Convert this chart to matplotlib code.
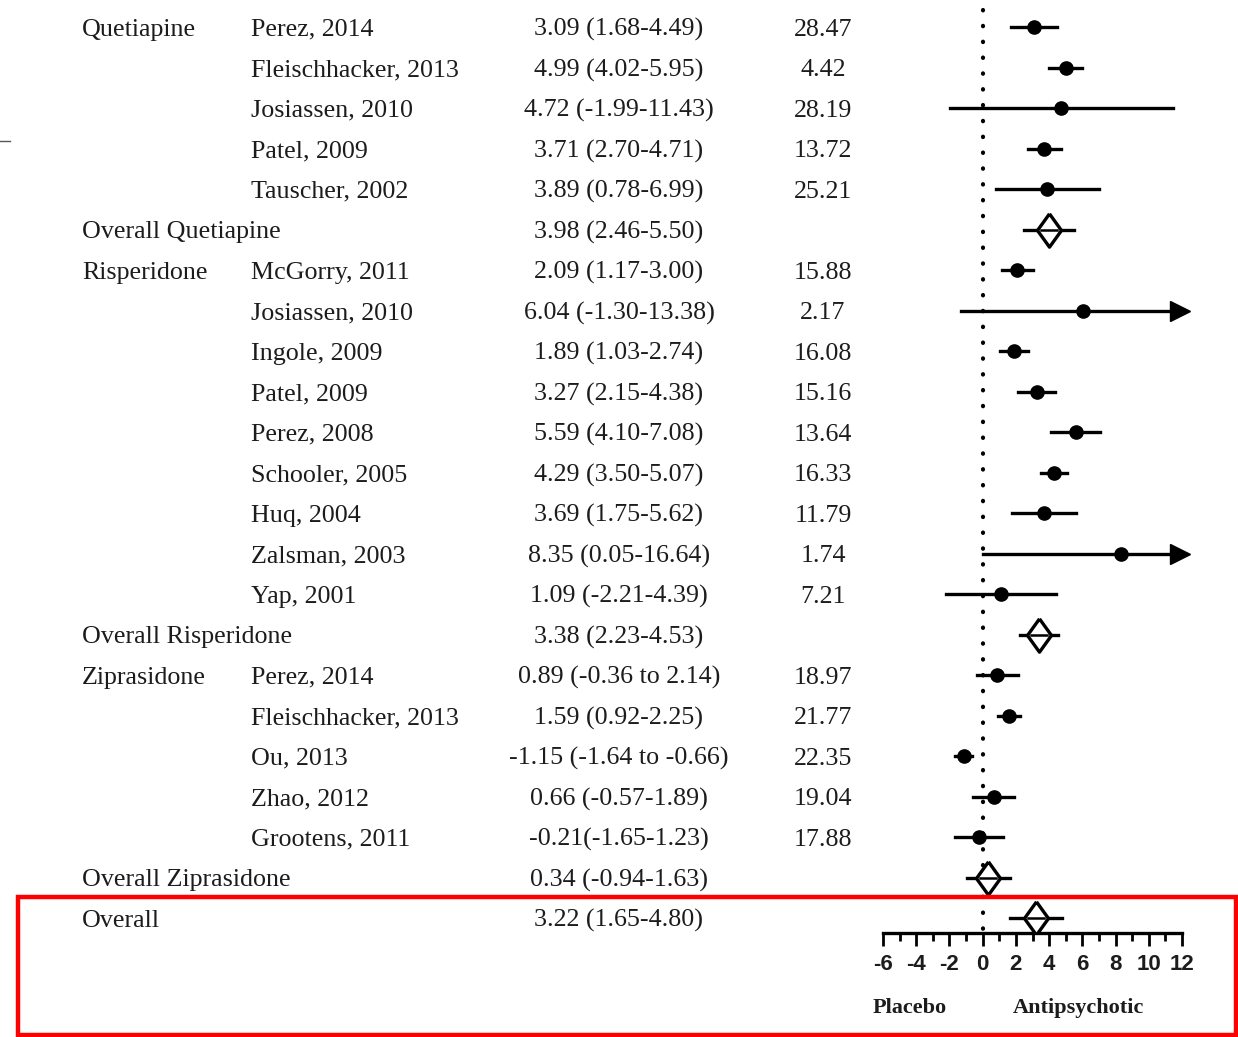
import numpy as np
import matplotlib
matplotlib.use("Agg")
import matplotlib.pyplot as plt
from matplotlib.patches import Rectangle
from matplotlib.lines import Line2D
from matplotlib.transforms import blended_transform_factory

plt.rcParams['axes.unicode_minus'] = False

# data per drug group
quet_studies = ["Perez, 2014", "Fleischhacker, 2013", "Josiassen, 2010", "Patel, 2009", "Tauscher, 2002"]
quet_est = [3.09, 4.99, 4.72, 3.71, 3.89]
quet_lo = [1.68, 4.02, -1.99, 2.70, 0.78]
quet_hi = [4.49, 5.95, 11.43, 4.71, 6.99]
quet_wt = ["28.47", "4.42", "28.19", "13.72", "25.21"]
quet_ci = ["3.09 (1.68-4.49)", "4.99 (4.02-5.95)", "4.72 (-1.99-11.43)", "3.71 (2.70-4.71)", "3.89 (0.78-6.99)"]
quet_overall = (3.98, 2.46, 5.50, "3.98 (2.46-5.50)")

risp_studies = ["McGorry, 2011", "Josiassen, 2010", "Ingole, 2009", "Patel, 2009", "Perez, 2008",
                "Schooler, 2005", "Huq, 2004", "Zalsman, 2003", "Yap, 2001"]
risp_est = [2.09, 6.04, 1.89, 3.27, 5.59, 4.29, 3.69, 8.35, 1.09]
risp_lo = [1.17, -1.30, 1.03, 2.15, 4.10, 3.50, 1.75, 0.05, -2.21]
risp_hi = [3.00, 13.38, 2.74, 4.38, 7.08, 5.07, 5.62, 16.64, 4.39]
risp_wt = ["15.88", "2.17", "16.08", "15.16", "13.64", "16.33", "11.79", "1.74", "7.21"]
risp_ci = ["2.09 (1.17-3.00)", "6.04 (-1.30-13.38)", "1.89 (1.03-2.74)", "3.27 (2.15-4.38)",
           "5.59 (4.10-7.08)", "4.29 (3.50-5.07)", "3.69 (1.75-5.62)", "8.35 (0.05-16.64)",
           "1.09 (-2.21-4.39)"]
risp_overall = (3.38, 2.23, 4.53, "3.38 (2.23-4.53)")

zipr_studies = ["Perez, 2014", "Fleischhacker, 2013", "Ou, 2013", "Zhao, 2012", "Grootens, 2011"]
zipr_est = [0.89, 1.59, -1.15, 0.66, -0.21]
zipr_lo = [-0.36, 0.92, -1.64, -0.57, -1.65]
zipr_hi = [2.14, 2.25, -0.66, 1.89, 1.23]
zipr_wt = ["18.97", "21.77", "22.35", "19.04", "17.88"]
zipr_ci = ["0.89 (-0.36 to 2.14)", "1.59 (0.92-2.25)", "-1.15 (-1.64 to -0.66)",
           "0.66 (-0.57-1.89)", "-0.21(-1.65-1.23)"]
zipr_overall = (0.34, -0.94, 1.63, "0.34 (-0.94-1.63)")

all_overall = (3.22, 1.65, 4.80, "3.22 (1.65-4.80)")

groups = [
    ("Quetiapine", quet_studies, quet_est, quet_lo, quet_hi, quet_wt, quet_ci, quet_overall),
    ("Risperidone", risp_studies, risp_est, risp_lo, risp_hi, risp_wt, risp_ci, risp_overall),
    ("Ziprasidone", zipr_studies, zipr_est, zipr_lo, zipr_hi, zipr_wt, zipr_ci, zipr_overall),
]

xticks = list(range(-6, 13, 2))
xmin, xmax = -6, 12

W, H = 1238, 1037
fig = plt.figure(figsize=(W / 100, H / 100), dpi=100)
ax = fig.add_axes([883 / W, (H - 933) / H, (1182 - 883) / W, 933 / H])
n_rows = sum(len(g[1]) + 1 for g in groups) + 1
ax.set_xlim(xmin, xmax)
ax.set_ylim(n_rows - 1 + 0.37, -0.667)

txt = '#1c1c1c'
serif = dict(family='Liberation Serif', fontsize=18.7, color=txt, va='center')
tr = blended_transform_factory(fig.transFigure, ax.transData)
dy = 0.07  # text sits a touch below the marks

diamond = [(0, 1), (0.72, 0), (0, -1), (-0.72, 0), (0, 1)]


def draw_ci(y, est, lo, hi):
    if hi > xmax:
        ax.plot([lo, xmax - 0.8], [y, y], color='black', lw=2.4, clip_on=False, zorder=2)
        ax.plot([xmax - 0.15], [y], marker='>', ms=15, color='black', clip_on=False, zorder=3)
    else:
        ax.plot([lo, hi], [y, y], color='black', lw=2.4, clip_on=False, zorder=2)


def draw_overall(y, est, lo, hi):
    ax.plot([lo, hi], [y, y], color='black', lw=2.4, zorder=2)
    ax.plot([est], [y], marker=diamond, ms=24, mfc='white', mec='black', mew=2.4, zorder=3)
    ax.plot([est - 0.72 * 0.67, est + 0.72 * 0.67], [y, y], color='black', lw=1.8, zorder=4)


row = 0
for name, studies, est, lo, hi, wt, ci, overall in groups:
    for i in range(len(studies)):
        if i == 0:
            ax.text(82 / W, row + dy, name, transform=tr, ha='left', **serif)
        ax.text(251 / W, row + dy, studies[i], transform=tr, ha='left', **serif)
        ax.text(619 / W, row + dy, ci[i], transform=tr, ha='center', **serif)
        ax.text(823 / W, row + dy, wt[i], transform=tr, ha='center', **serif)
        draw_ci(row, est[i], lo[i], hi[i])
        ax.plot([est[i]], [row], 'o', color='black', ms=9.5, zorder=3)
        row += 1
    ax.text(82 / W, row + dy, "Overall " + name, transform=tr, ha='left', **serif)
    ax.text(619 / W, row + dy, overall[3], transform=tr, ha='center', **serif)
    draw_overall(row, *overall[:3])
    row += 1

ax.text(82 / W, row + dy, "Overall", transform=tr, ha='left', **serif)
ax.text(619 / W, row + dy, all_overall[3], transform=tr, ha='center', **serif)
draw_overall(row, *all_overall[:3])

# dotted null line
ax.plot([0, 0], [-0.42, n_rows - 1 + 0.3], color='black', lw=3,
        ls=(0, (0.1, 3.7)), dash_capstyle='round', zorder=1)

for s in ['top', 'left', 'right']:
    ax.spines[s].set_visible(False)
ax.spines['bottom'].set_bounds(xmin, xmax)
ax.spines['bottom'].set_linewidth(2.4)
ax.set_yticks([])
ax.set_xticks(xticks)
ax.set_xticks(range(xmin, xmax + 1), minor=True)
ax.tick_params(axis='x', which='major', length=9, width=2, pad=6)
ax.tick_params(axis='x', which='minor', length=6, width=2)
for lab in ax.get_xticklabels():
    lab.set_family('Liberation Sans')
    lab.set_fontsize(16)
    lab.set_fontweight('bold')
    lab.set_color(txt)

fig.text(873 / W, 1 - 1008 / H, "Placebo", family='Liberation Serif', fontweight='bold',
         fontsize=16, color=txt, ha='left', va='center')
fig.text(1013 / W, 1 - 1008 / H, "Antipsychotic", family='Liberation Serif', fontweight='bold',
         fontsize=16, color=txt, ha='left', va='center')

fig.add_artist(Rectangle((18 / W, (H - 1035) / H), (1236 - 18) / W, (1035 - 897) / H,
                         transform=fig.transFigure, fill=False, ec='#ff0000', lw=3.2))
fig.add_artist(Line2D([0, 10 / W], [1 - 141 / H] * 2, color='#555555', lw=1))

fig.savefig("out.png", dpi=100)
